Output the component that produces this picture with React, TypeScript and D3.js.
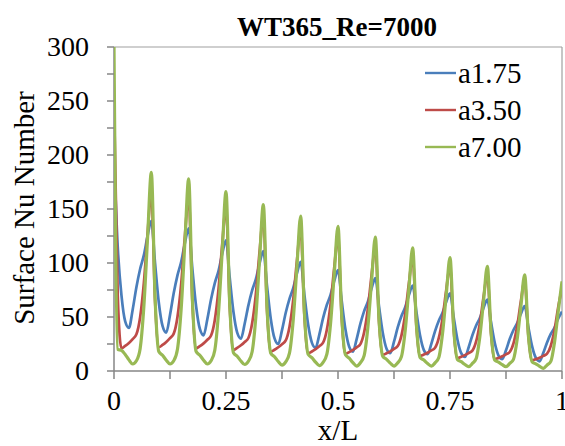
import React from "react";
import * as d3 from "d3";

const title = "WT365_Re=7000";
const xLabel = "x/L";
const yLabel = "Surface Nu Number";
const seriesNames = ["a1.75", "a3.50", "a7.00"];
const seriesColors = ["#4a7ebb", "#be4b48", "#98b954"];
const xTickLabels = [0, 0.25, 0.5, 0.75, 1];
const yTickLabels = [0, 50, 100, 150, 200, 250, 300];

// samples every 1/120 of x/L (10 per rib pitch), x/L = 0 ... 1
const a175 = [
  200, 115, 70, 46, 40, 56.8, 77.6, 94.5, 107.3, 125.1,
  139, 99.7, 63.4, 41.7, 35.5, 51.9, 72.2, 88.6, 101.1, 118.5,
  132, 94.4, 59.7, 38.9, 33, 48, 66.4, 81.4, 92.8, 108.7,
  121, 86.4, 54.6, 35.5, 30, 43.8, 60.8, 74.6, 85.1, 99.7,
  111, 78.3, 48.2, 30.2, 25, 37.9, 53.9, 66.8, 76.7, 90.4,
  101, 70.8, 43, 26.3, 21.5, 33.7, 48.9, 61.1, 70.5, 83.4,
  93.5, 64.8, 38.4, 22.5, 18, 29.6, 43.8, 55.4, 64.2, 76.5,
  86, 59.6, 35.3, 20.7, 16.5, 27.1, 40.3, 50.9, 59, 70.3,
  79, 54.9, 32.6, 19.3, 15.5, 25.1, 37, 46.6, 53.9, 64.1,
  72, 49.6, 28.9, 16.5, 13, 22, 33.1, 42.2, 49, 58.6,
  66, 45.1, 25.9, 14.3, 11, 19.3, 29.6, 38, 44.3, 53.1,
  60, 40.6, 22.8, 12.1, 9, 16.8, 26.5, 34.3, 40.3, 48.6,
  55,
];
const a350 = [
  250, 70, 21, 23.2, 26, 29.6, 34, 49.8, 81.5, 127.6,
  165, 64.9, 22, 24.1, 26.9, 30.4, 34.6, 50, 80.8, 125.6,
  162, 63.3, 21, 23, 25.6, 28.9, 32.8, 47.2, 76, 117.9,
  152, 59.3, 19.5, 21.4, 23.8, 26.9, 30.6, 44.2, 71.4, 110.9,
  143, 55.5, 18, 19.7, 22, 24.8, 28.3, 40.8, 65.9, 102.4,
  132, 51.2, 16.5, 18.1, 20.3, 23, 26.2, 38, 61.7, 96.1,
  124, 48.4, 16, 17.5, 19.5, 21.9, 24.9, 35.8, 57.6, 89.3,
  115, 45, 15, 16.4, 18.2, 20.4, 23.1, 33, 52.8, 81.6,
  105, 41.3, 14, 15.2, 16.9, 19, 21.5, 30.6, 48.9, 75.4,
  97, 37.5, 12, 13.2, 14.7, 16.6, 18.9, 27.4, 44.3, 69,
  89, 34.4, 11, 12.1, 13.6, 15.4, 17.6, 25.6, 41.7, 65,
  84, 32.2, 10, 11, 12.3, 14, 16, 23.4, 38.1, 59.6,
  77,
];
const a700 = [
  300, 20, 19, 15.3, 10.3, 6.5, 9.5, 20.7, 59.8, 123.7,
  184, 67.8, 18, 14.6, 10, 6.5, 9.5, 20.2, 58, 119.7,
  178, 66, 18, 14.6, 10, 6.5, 9.5, 19.3, 54.4, 111.8,
  166, 61.7, 17, 13.7, 9.3, 6, 9, 17.8, 50.4, 103.7,
  154, 57.8, 16.5, 13.2, 8.8, 5.5, 8.5, 16.5, 46.9, 96.6,
  143.5, 53.9, 15.5, 12.4, 8.2, 5, 8, 15.3, 43.7, 90.1,
  134, 50.7, 15, 11.9, 7.7, 4.6, 7.6, 14.2, 40.4, 83.4,
  124, 46.7, 13.5, 10.8, 7.3, 4.6, 7.6, 13.4, 37.4, 76.8,
  114, 43, 12.5, 10.1, 6.9, 4.5, 7.5, 12.5, 34.7, 70.8,
  105, 38.9, 10.5, 8.6, 6, 4, 7, 11.4, 31.9, 65.4,
  97, 36.1, 10, 8.2, 5.8, 4, 7, 10.8, 29.5, 60.1,
  89, 32.7, 8.5, 6.7, 4.3, 2.5, 5.5, 8.9, 26.7, 55.6,
  83,
];
const seriesValues = [a175, a350, a700];

const W = 565;
const H = 446;

function T(props: any) {
  const { children, ...rest } = props;
  return (
    <text fontFamily="Liberation Serif" style={{ fontFamily: '"Liberation Serif"' }} fill="#000" {...rest}>
      {children}
    </text>
  );
}

export default function App() {
  const x = d3.scaleLinear().domain([0, 1]).range([114, 562]);
  const y = d3.scaleLinear().domain([0, 300]).range([371, 47]);
  const xs = d3.range(a175.length).map((i) => i / (a175.length - 1));
  const line = d3
    .line<number>()
    .x((_, i) => x(xs[i]))
    .y((v) => y(v))
    .curve(d3.curveMonotoneX);
  const yMinor = d3.range(0, 301, 25);
  const xMinor = d3.range(0, 1.0001, 0.125);
  const axisColor = "#868686";
  const widths = [2.7, 2.7, 3.2];

  return (
    <svg
      width={W}
      height={H}
      fontFamily="Liberation Serif"
      style={{ position: "absolute", left: 0, top: 0 }}
    >
      <defs>
        <clipPath id="plotclip">
          <rect x={x(0)} y={y(300)} width={x(1) - x(0)} height={y(0) - y(300)} />
        </clipPath>
      </defs>
      <rect width={W} height={H} fill="#fff" />
      <line x1={x(0)} x2={x(1)} y1={y(300)} y2={y(300)} stroke="#a0a0a0" strokeWidth={1.2} />
      <line x1={x(1)} x2={x(1)} y1={y(300)} y2={y(0)} stroke="#a0a0a0" strokeWidth={1.2} />
      <line x1={x(0)} x2={x(1)} y1={y(0)} y2={y(0)} stroke={axisColor} strokeWidth={1.5} />
      <line x1={x(0)} x2={x(0)} y1={y(0)} y2={y(300)} stroke={axisColor} strokeWidth={1.5} />
      {yMinor.map((v) => (
        <line key={"yt" + v} x1={x(0) - 7} x2={x(0)} y1={y(v)} y2={y(v)} stroke={axisColor} strokeWidth={1.5} />
      ))}
      {xMinor.map((v) => (
        <line key={"xt" + v} x1={x(v)} x2={x(v)} y1={y(0)} y2={y(0) + 8} stroke={axisColor} strokeWidth={1.5} />
      ))}
      {yTickLabels.map((v) => (
        <T key={"yl" + v} x={89} y={y(v) + 9} textAnchor="end" fontSize={28}>
          {v}
        </T>
      ))}
      {xTickLabels.map((v) => (
        <T key={"xl" + v} x={x(v)} y={410} textAnchor="middle" fontSize={28}>
          {v}
        </T>
      ))}
      <T x={338} y={440} textAnchor="middle" fontSize={29}>
        {xLabel}
      </T>
      <T transform="translate(34, 208) rotate(-90)" textAnchor="middle" fontSize={29}>
        {yLabel}
      </T>
      <T x={337} y={36} textAnchor="middle" fontSize={27} fontWeight="bold">
        {title}
      </T>
      <g clipPath="url(#plotclip)">
        {seriesValues.map((vals, si) => (
          <path
            key={seriesNames[si]}
            d={line(vals) || ""}
            fill="none"
            stroke={seriesColors[si]}
            strokeWidth={widths[si]}
            strokeLinejoin="round"
          />
        ))}
      </g>
      {seriesNames.map((name, i) => (
        <g key={"lg" + name} transform={`translate(425, ${73 + i * 37})`}>
          <line x1={0} x2={31} y1={0} y2={0} stroke={seriesColors[i]} strokeWidth={2.4} />
          <T x={33} y={10} fontSize={29}>
            {name}
          </T>
        </g>
      ))}
    </svg>
  );
}
